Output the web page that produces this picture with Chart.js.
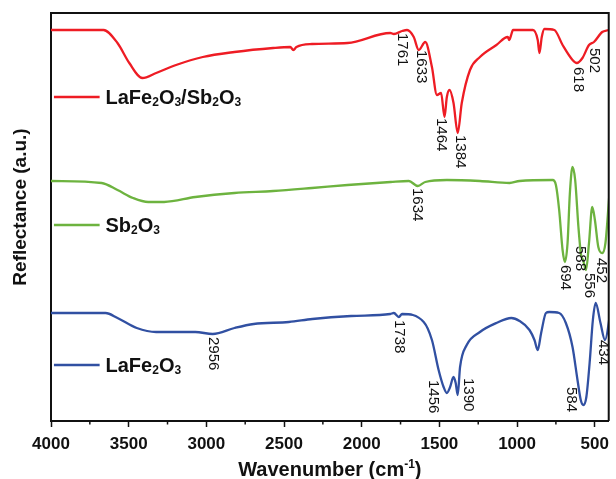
<!DOCTYPE html>
<html>
<head>
<meta charset="utf-8">
<script src="https://cdn.jsdelivr.net/npm/chart.js@4.4.1/dist/chart.umd.min.js"></script>
<style>
  html, body { margin: 0; padding: 0; background: #fff; }
</style>
</head>
<body>
<canvas id="myChart" width="616" height="479"></canvas>
<script>
// x ticks (cm-1)
const xTicks = [4000, 3500, 3000, 2500, 2000, 1500, 1000, 500];
const xMinor = [3750, 3250, 2750, 2250, 1750, 1250, 750];

// LaFe2O3/Sb2O3 (red)
const compWn = [4000, 3662, 3572, 3496, 3412, 3323, 3195, 3023, 2819, 2570, 2460, 2440, 2420, 2320, 2091, 1816, 1793, 1740, 1708, 1665, 1633, 1591, 1548, 1516, 1489, 1467, 1452, 1435, 1409, 1382, 1356, 1303, 1239, 1133, 1060, 1050, 1040, 1026, 898, 867, 856, 841, 824, 760, 707, 643, 616, 579, 537, 505, 452, 410, 395];
const compVal = [391, 391, 378, 358, 343, 348, 356, 364, 369, 373, 374, 371, 374, 377, 378, 388, 387, 390, 391, 384, 371, 379, 354, 326, 328, 304, 324, 331, 318, 288, 318, 351, 364, 376, 384, 381, 385, 391, 391, 381, 368, 384, 392, 391, 376, 361, 358, 363, 376, 379, 389, 391, 392];

// Sb2O3 (green)
const sbWn = [4000, 3674, 3572, 3472, 3374, 3272, 3071, 2819, 2570, 2320, 2091, 1814, 1697, 1639, 1591, 1452, 1239, 1048, 984, 771, 750, 729, 707, 692, 675, 660, 643, 626, 605, 588, 575, 556, 537, 516, 499, 477, 452, 431, 410, 395];
const sbVal = [240, 238, 231, 223, 219, 219, 224, 228, 230, 233, 236, 239, 240, 235, 239, 241, 240, 238, 240, 241, 236, 211, 171, 159, 178, 228, 254, 241, 194, 166, 161, 151, 178, 214, 201, 174, 168, 178, 218, 250];

// LaFe2O3 (blue)
const lfoWn = [4000, 3649, 3572, 3448, 3323, 3071, 2959, 2819, 2695, 2469, 2318, 2068, 1816, 1793, 1761, 1740, 1601, 1548, 1505, 1473, 1452, 1431, 1409, 1395, 1382, 1367, 1324, 1239, 1133, 1037, 984, 920, 888, 867, 845, 814, 793, 729, 686, 643, 611, 590, 573, 554, 533, 512, 494, 463, 434, 410, 395];
const lfoVal = [108, 108, 103, 93, 89, 89, 87, 93, 97, 99, 102, 105, 107, 108, 104, 107, 99, 81, 51, 34, 28, 34, 44, 38, 26, 54, 76, 89, 98, 103, 100, 91, 81, 71, 88, 108, 109, 108, 98, 74, 41, 21, 16, 24, 58, 101, 118, 98, 81, 98, 121];

// peak labels: text, anchor wavenumber, anchor value (top of label)
const compPeaks = [['1761', 1740, 388], ['1633', 1618, 371], ['1464', 1490, 303], ['1384', 1369, 286], ['618', 609, 354], ['502', 507, 373]];
const sbPeaks = [['1634', 1644, 233], ['694', 692, 156], ['588', 597, 175], ['556', 539, 148], ['452', 456, 163]];
const lfoPeaks = [['2956', 2959, 84], ['1738', 1759, 101], ['1456', 1542, 41], ['1390', 1318, 43], ['584', 654, 34], ['434', 443, 81]];

const names = ['LaFe2O3/Sb2O3', 'Sb2O3', 'LaFe2O3'];
const legendVal = [324, 196, 56];
const colors = ['#ee1c24', '#6db33f', '#3150a2'];

const FAMILY = '"Liberation Sans", Arial, sans-serif';

function pts(xs, ys) { return xs.map((v, i) => ({x: v, y: ys[i]})); }

// draws a formula with digits as subscripts
function drawFormula(ctx, text, x, y, size) {
    let cx = x;
    for (const ch of text) {
        const sub = /[0-9]/.test(ch);
        ctx.font = 'bold ' + (sub ? Math.round(size * 0.6) : size) + 'px ' + FAMILY;
        ctx.fillText(ch, cx, sub ? y + 2 : y);
        cx += ctx.measureText(ch).width;
    }
    return cx;
}

const decorations = {
    id: 'decorations',
    afterDraw(chart) {
        const {ctx, chartArea: a, scales: {x, y}} = chart;
        ctx.save();
        ctx.strokeStyle = '#111';
        ctx.lineWidth = 2;
        ctx.beginPath();
        ctx.moveTo(a.left, a.top);
        ctx.lineTo(a.right, a.top);
        ctx.lineTo(a.right, a.bottom);
        ctx.stroke();

        ctx.lineWidth = 1.5;
        xMinor.forEach(v => {
            const px = x.getPixelForValue(v);
            ctx.beginPath();
            ctx.moveTo(px, a.bottom);
            ctx.lineTo(px, a.bottom + 3.5);
            ctx.stroke();
        });

        // legend entries beside each curve
        ctx.textBaseline = 'alphabetic';
        ctx.textAlign = 'left';
        names.forEach((n, i) => {
            const py = y.getPixelForValue(legendVal[i]);
            ctx.strokeStyle = colors[i];
            ctx.lineWidth = 2.3;
            ctx.beginPath();
            ctx.moveTo(x.getPixelForValue(3981), py);
            ctx.lineTo(x.getPixelForValue(3687), py);
            ctx.stroke();
            ctx.fillStyle = '#111';
            drawFormula(ctx, n, x.getPixelForValue(3649), py + 7, 20);
        });

        // rotated peak labels
        ctx.fillStyle = '#111';
        ctx.font = '15px ' + FAMILY;
        ctx.textBaseline = 'middle';
        [compPeaks, sbPeaks, lfoPeaks].forEach(list => list.forEach(p => {
            ctx.save();
            ctx.translate(x.getPixelForValue(p[1]), y.getPixelForValue(p[2]));
            ctx.rotate(Math.PI / 2);
            ctx.fillText(p[0], 0, 0);
            ctx.restore();
        }));

        // axis titles
        ctx.fillStyle = '#111';
        ctx.textBaseline = 'alphabetic';
        ctx.font = 'bold 20px ' + FAMILY;
        const t1 = 'Wavenumber (cm', t2 = '-1', t3 = ')';
        const w1 = ctx.measureText(t1).width, w3 = ctx.measureText(t3).width;
        ctx.font = 'bold 12px ' + FAMILY;
        const w2 = ctx.measureText(t2).width;
        let tx = (a.left + a.right) / 2 - (w1 + w2 + w3) / 2;
        const ty = 476;
        ctx.font = 'bold 20px ' + FAMILY;
        ctx.fillText(t1, tx, ty);
        ctx.font = 'bold 12px ' + FAMILY;
        ctx.fillText(t2, tx + w1, ty - 8);
        ctx.font = 'bold 20px ' + FAMILY;
        ctx.fillText(t3, tx + w1 + w2, ty);

        ctx.save();
        ctx.translate(26, 207);
        ctx.rotate(-Math.PI / 2);
        ctx.textAlign = 'center';
        ctx.font = 'bold 19px ' + FAMILY;
        ctx.fillText('Reflectance (a.u.)', 0, 0);
        ctx.restore();

        ctx.restore();
    }
};

const myChart = new Chart(document.getElementById('myChart'), {
    type: 'line',
    data: {
        datasets: [
            {data: pts(compWn, compVal), borderColor: colors[0]},
            {data: pts(sbWn, sbVal), borderColor: colors[1]},
            {data: pts(lfoWn, lfoVal), borderColor: colors[2]}
        ]
    },
    options: {
        responsive: false,
        animation: false,
        layout: {padding: {top: 13, right: 3, left: 0, bottom: 0}},
        plugins: {legend: {display: false}, tooltip: {enabled: false}},
        elements: {
            point: {radius: 0},
            line: {borderWidth: 2.3, cubicInterpolationMode: 'monotone', fill: false}
        },
        scales: {
            x: {
                type: 'linear',
                reverse: true,
                min: 410,
                max: 4000,
                afterBuildTicks: s => { s.ticks = xTicks.map(v => ({value: v})); },
                afterFit: s => { s.height = 58; },
                grid: {display: true, drawOnChartArea: false, drawTicks: true, tickLength: 6, tickWidth: 1.5, tickColor: '#111'},
                border: {display: true, color: '#111', width: 2},
                ticks: {padding: 7, color: '#111', maxRotation: 0, autoSkip: false,
                        callback: v => String(v),
                        font: {family: FAMILY, size: 17, weight: 'bold'}}
            },
            y: {
                min: 0,
                max: 408,
                afterFit: s => { s.width = 51; },
                grid: {display: false},
                ticks: {display: false},
                border: {display: true, color: '#111', width: 2}
            }
        }
    },
    plugins: [decorations]
});
</script>
</body>
</html>
